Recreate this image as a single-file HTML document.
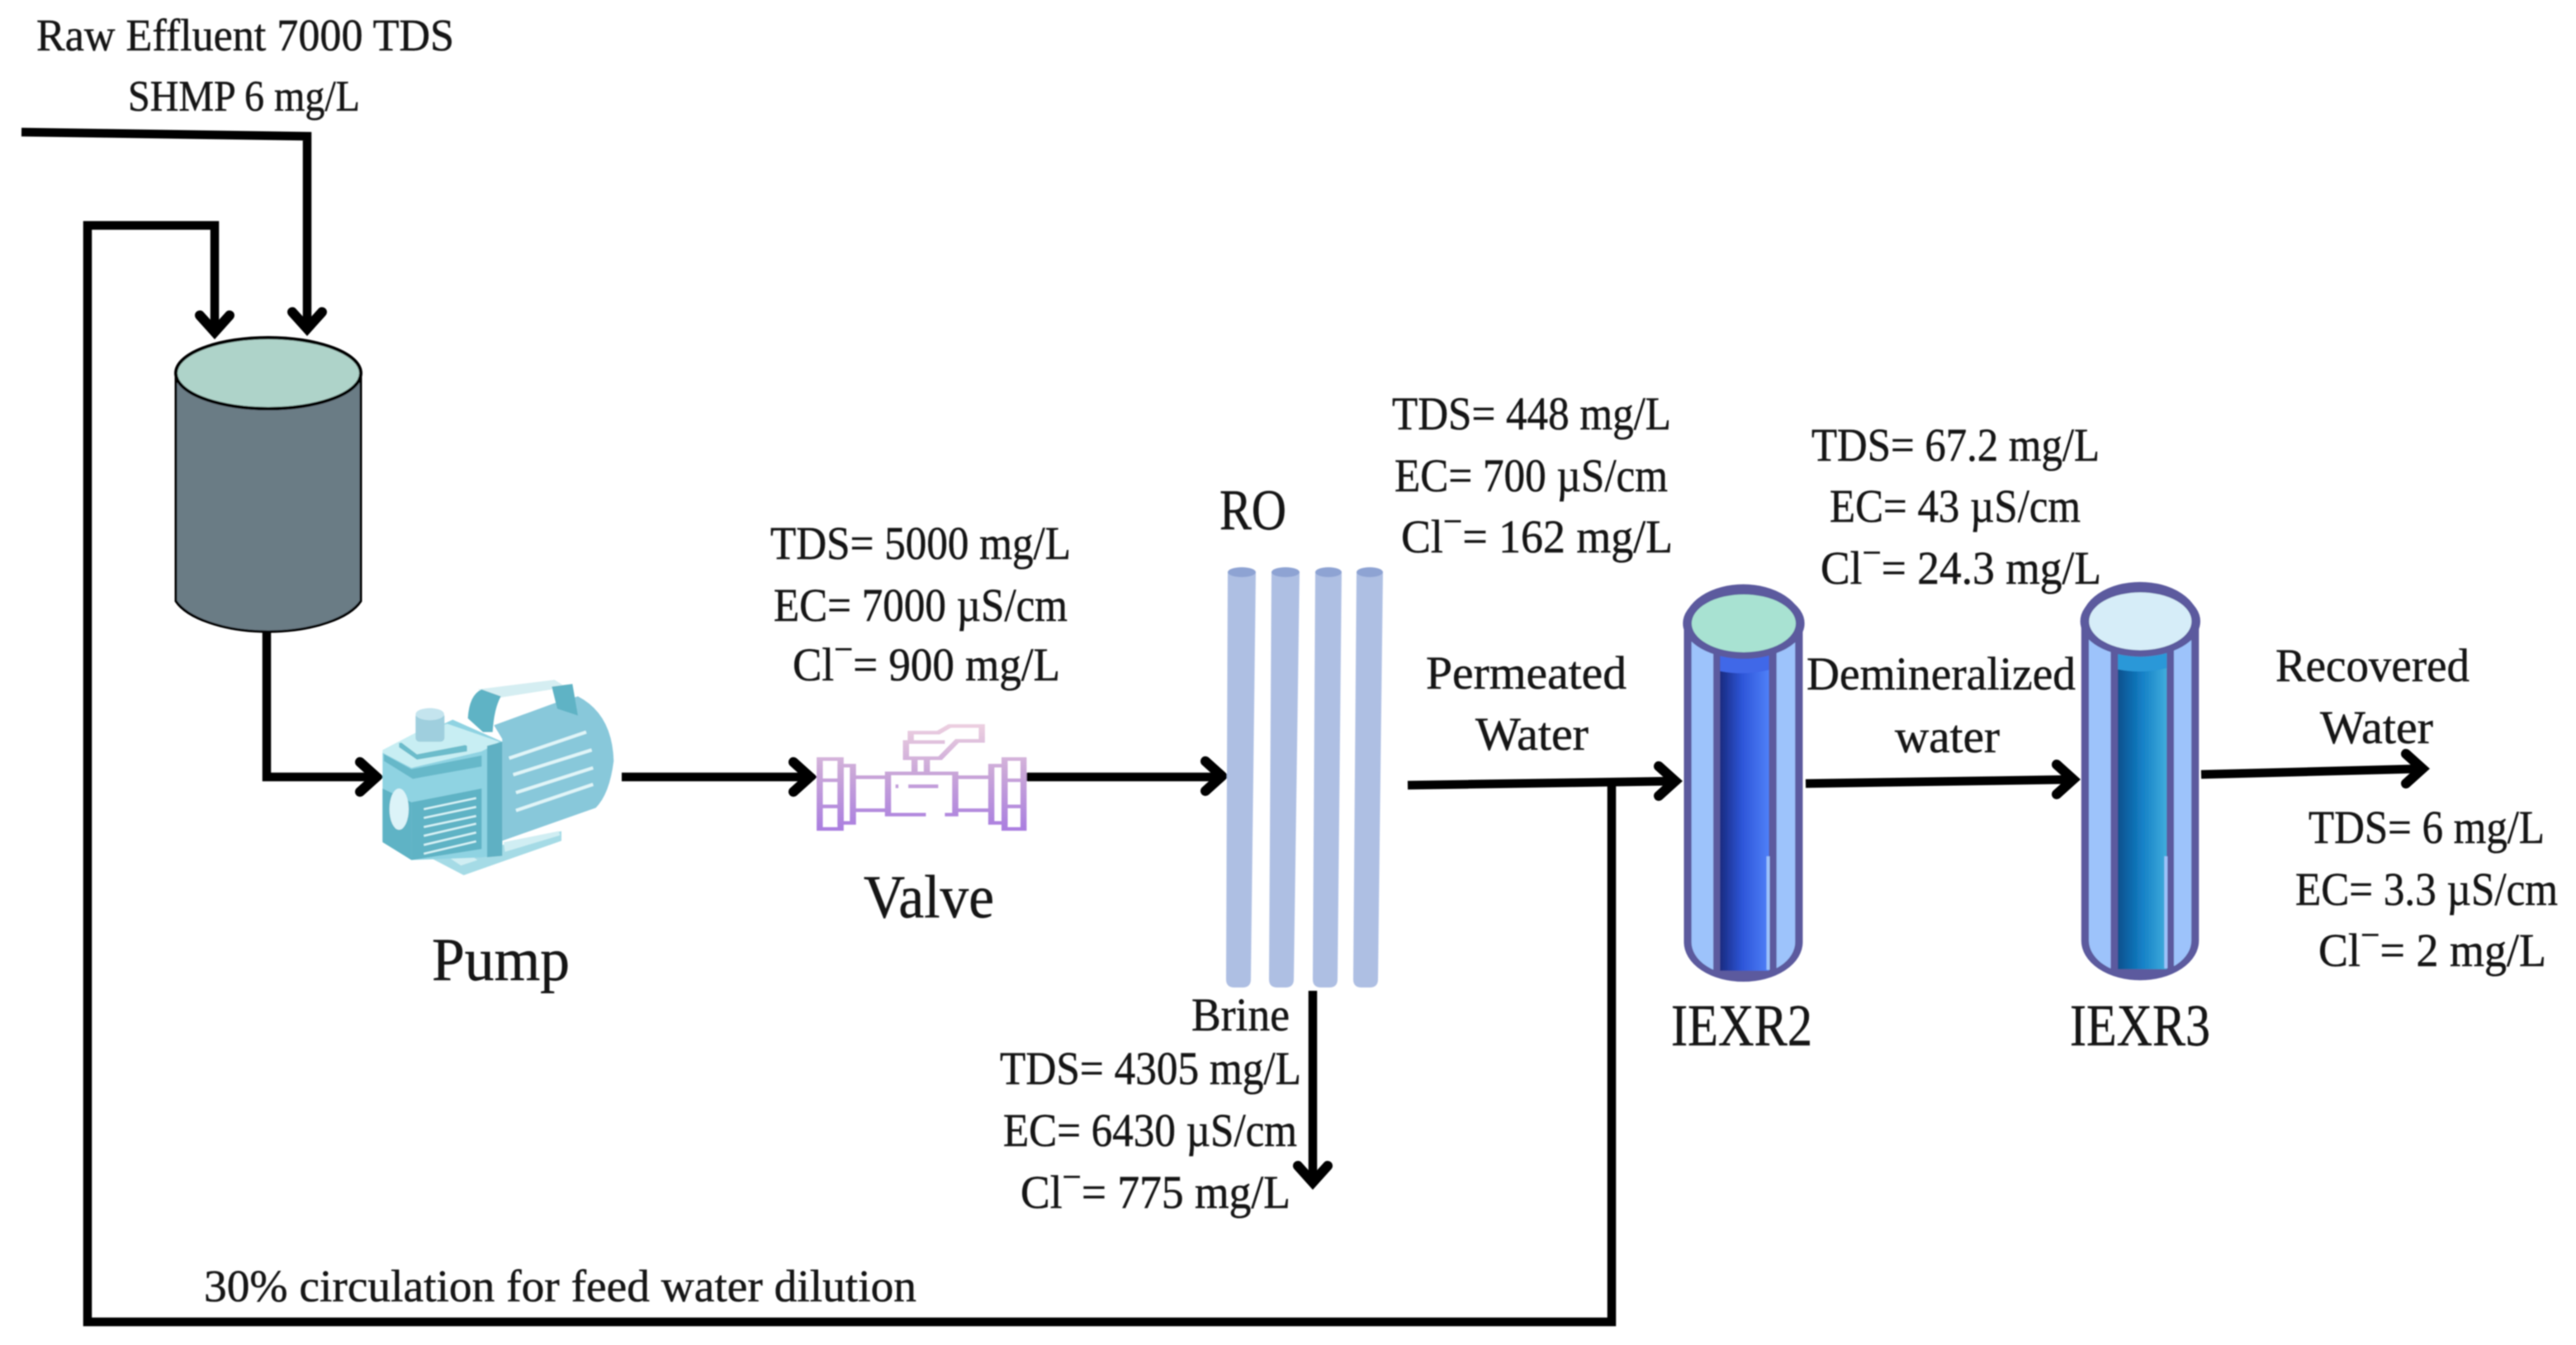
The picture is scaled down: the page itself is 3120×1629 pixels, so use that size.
<!DOCTYPE html>
<html><head><meta charset="utf-8"><title>Water treatment process diagram</title>
<style>html,body{margin:0;padding:0;background:#fff;width:3120px;height:1629px;overflow:hidden}svg{display:block}
text{font-family:"Liberation Serif",serif;fill:#151515;stroke:#151515;stroke-width:.5px}</style></head><body>
<svg width="3120" height="1629" viewBox="0 0 3120 1629" xmlns="http://www.w3.org/2000/svg">
<defs>
<filter id="soft" x="-2%" y="-2%" width="104%" height="104%"><feGaussianBlur stdDeviation="0.9"/></filter>
<linearGradient id="vg" gradientUnits="userSpaceOnUse" x1="0" y1="295" x2="0" y2="680"><stop offset="0" stop-color="#eccfe0"/><stop offset=".45" stop-color="#c9a6d8"/><stop offset="1" stop-color="#a97de0"/></linearGradient>
<linearGradient id="r2" x1="0" x2="1" y1="0" y2="0"><stop offset="0" stop-color="#192a80"/><stop offset=".45" stop-color="#2d55d8"/><stop offset="1" stop-color="#4f80f8"/></linearGradient>
<linearGradient id="r3" x1="0" x2="1" y1="0" y2="0"><stop offset="0" stop-color="#07508e"/><stop offset=".5" stop-color="#1480c6"/><stop offset="1" stop-color="#40acdc"/></linearGradient>
<clipPath id="c2"><rect x="91" y="87" width="278" height="1329" rx="139" ry="125"/></clipPath>
<clipPath id="c3"><rect x="1084" y="79" width="275" height="1332" rx="137" ry="125"/></clipPath>
</defs>
<g filter="url(#soft)">
<!-- connectors -->
<g fill="none" stroke="#000" stroke-width="10.5" stroke-linejoin="miter">
<path d="M26 160 L372 165 V398"/>
<path d="M260 402 V273 H106 V1601 H1952 V951"/>
<path d="M323 766 V941 H458" />
<path d="M753 941 H982"/>
<path d="M1242 941 H1482"/>
<path d="M1705 951 L2030 946"/>
<path d="M2187 949 L2512 944"/>
<path d="M2666 938 L2935 931"/>
<path d="M1590 1200 V1432"/>
</g>
<g fill="none" stroke="#000" stroke-width="12" stroke-linecap="round" stroke-linejoin="miter">
<path d="M436 923 L456 941 L436 959"/>
<path d="M961 923 L981 941 L961 959"/>
<path d="M1460 922 L1480 940 L1460 958"/>
<path d="M2009 928 L2029 946 L2009 964"/>
<path d="M2491 926 L2511 944 L2491 962"/>
<path d="M2914 913 L2934 931 L2914 949"/>
<path d="M242 382 L260 402 L278 382"/>
<path d="M354 378 L372 398 L390 378"/>
<path d="M1572 1412 L1590 1432 L1608 1412"/>
</g>
<!-- tank -->
<path d="M213 452 V728 C226 748 270 765 325 765 C380 765 424 748 437 728 V452 Z" fill="#6b7b85" stroke="#000" stroke-width="3"/>
<ellipse cx="325" cy="452" rx="112" ry="43" fill="#aed3c9" stroke="#000" stroke-width="4"/>
<!-- pump -->
<g transform="translate(455 815) scale(.3333)">
<path d="M430 190 L650 110 L735 85 Q860 150 865 320 Q850 440 800 490 L460 610 V240 Z" fill="#88c8da"/>
<path d="M370 60 L650 25 L690 50 L640 60 L450 90Z" fill="#d5eef2"/>
<path d="M335 165 Q340 80 385 60 L455 85 Q430 130 425 215 L390 215 Z" fill="#5fb3c5"/>
<path d="M640 50 L715 40 L735 155 L660 130 Z" fill="#5fb3c5"/>
<g stroke="#e0f5f8" stroke-width="12" fill="none"><path d="M485 310 L765 215M500 370 L785 280M510 435 L790 345M510 500 L790 405"/></g>
<path d="M205 675 L320 735 L675 610 V575 L460 625 V665 L405 670Z" fill="#a5dbe6"/>
<path d="M250 660 L310 640 L370 680 L310 700Z" fill="#d0eef3"/>
<path d="M465 615 L665 575 L670 590 L470 650Z" fill="#d0eef3"/>
<path d="M25 290 L280 170 L460 250 V665 L405 670 L130 680 L25 610 Z" fill="#8fd3e2"/>
<path d="M25 280 L150 215 L260 185 L450 250 L385 285 L130 345 L25 290 Z" fill="#c8eef3"/>
<path d="M85 255 L240 225 L332 265 V285 L150 315 L85 270Z" fill="#6cbccb"/>
<path d="M92 252 L240 222 L325 262 L150 296Z" fill="#c8eef3"/>
<path d="M30 295 L130 350 L385 300 V340 L135 385 L30 320 Z" fill="#66b8c9"/>
<path d="M130 470 L385 420 V640 L130 680Z" fill="#5fb3c5"/>
<path d="M25 420 L130 470 V680 L25 615Z" fill="#5fb3c5"/>
<ellipse cx="85" cy="495" rx="35" ry="75" fill="#dcf3f8"/>
<g stroke="#d8f4f8" stroke-width="7" fill="none"><path d="M175 495 L365 455M175 527 L365 487M175 560 L365 520M175 592 L365 548M175 625 L365 580M175 657 L365 612"/></g>
<path d="M405 265 L460 250 V665 L405 670Z" fill="#5fb0c3"/>
<rect x="145" y="145" width="105" height="105" rx="14" fill="#9fcfde"/>
<ellipse cx="197" cy="150" rx="52" ry="22" fill="#c4e4ee"/>
</g>
<!-- valve -->
<g transform="translate(420 780) scale(.574 .3333)" fill="none" stroke="url(#vg)" stroke-width="13">
<rect x="998" y="418" width="44" height="254"/><path d="M998 495 H1042 M998 590 H1042"/>
<rect x="1042" y="442" width="26" height="208"/>
<path d="M1068 484 H1140 M1068 604 H1140"/>
<path d="M1222 620 H1142 V470 H1284 V620 H1262"/>
<path d="M1158 517 h6 M1185 517 H1248"/>
<path d="M1284 484 H1360 M1284 604 H1360"/>
<rect x="1360" y="442" width="28" height="208"/>
<rect x="1388" y="418" width="40" height="254"/><path d="M1388 495 H1428 M1388 590 H1428"/>
<path d="M1198 470 V420 M1224 470 V420"/>
<path d="M1190 356 V322 H1248 L1272 298 H1340 V352 H1288 L1252 415 H1180 V356 H1262"/>
</g>
<!-- RO -->
<g fill="#aebfe3">
<path d="M1487 693 H1521 L1515 1186 Q1515 1196 1505 1196 H1495 Q1485 1196 1485 1186Z"/>
<path d="M1540 693 H1574 L1567 1186 Q1567 1196 1557 1196 H1547 Q1537 1196 1537 1186Z"/>
<path d="M1593 693 H1625 L1620 1186 Q1620 1196 1610 1196 H1600 Q1590 1196 1590 1186Z"/>
<path d="M1643 693 H1675 L1669 1186 Q1669 1196 1659 1196 H1649 Q1639 1196 1639 1186Z"/>
</g>
<g fill="#8ea3d3"><ellipse cx="1504" cy="693" rx="17" ry="6"/><ellipse cx="1557" cy="693" rx="17" ry="6"/><ellipse cx="1609" cy="693" rx="16" ry="6"/><ellipse cx="1659" cy="693" rx="16" ry="6"/></g>
<!-- IEXR2 -->
<g transform="translate(2000 680) scale(.4847 .3571)">
<rect x="91" y="87" width="278" height="1329" rx="139" ry="125" fill="#9dc3fb"/>
<g clip-path="url(#c2)">
<rect x="155" y="300" width="158" height="1130" fill="#5c5a9e"/>
<rect x="172" y="310" width="122" height="1100" fill="url(#r2)"/>
<path d="M172 310 H294 V368 Q233 388 172 372Z" fill="#3f68e8"/>
<rect x="288" y="1000" width="8" height="385" fill="#9dc3fb"/>
<path d="M91 1340 Q230 1400 369 1340 V1420 H91Z" fill="#5c5a9e" opacity="0"/>
<rect x="91" y="1388" width="278" height="36" fill="#5c5a9e"/>
</g>
<rect x="91" y="87" width="278" height="1329" rx="139" ry="125" fill="none" stroke="#5c5a9e" stroke-width="19"/>
<ellipse cx="231" cy="210" rx="141" ry="109" fill="#a8e2d2" stroke="#5c5a9e" stroke-width="22"/>
</g>
<!-- IEXR3 -->
<g transform="translate(2000 680) scale(.4847 .3571)">
<rect x="1084" y="79" width="275" height="1332" rx="137" ry="125" fill="#9dc3fb"/>
<g clip-path="url(#c3)">
<rect x="1148" y="295" width="158" height="1130" fill="#5c5a9e"/>
<rect x="1166" y="305" width="122" height="1100" fill="url(#r3)"/>
<path d="M1166 305 H1288 V362 Q1227 382 1166 366Z" fill="#2a98d8"/>
<rect x="1282" y="1000" width="8" height="380" fill="#9dc3fb"/>
<rect x="1084" y="1383" width="275" height="36" fill="#5c5a9e"/>
</g>
<rect x="1084" y="79" width="275" height="1332" rx="137" ry="125" fill="none" stroke="#5c5a9e" stroke-width="19"/>
<ellipse cx="1222" cy="203" rx="139" ry="109" fill="#d6edf8" stroke="#5c5a9e" stroke-width="22"/>
</g>
<!-- labels -->
<g text-rendering="geometricPrecision" font-size="57">
<text x="44" y="61" font-size="55" textLength="506" lengthAdjust="spacingAndGlyphs">Raw Effluent 7000 TDS</text>
<text x="155" y="134" font-size="53" textLength="281" lengthAdjust="spacingAndGlyphs">SHMP 6 mg/L</text>

<text x="933" y="677" textLength="364" lengthAdjust="spacingAndGlyphs">TDS= 5000 mg/L</text>
<text x="937" y="752" textLength="356" lengthAdjust="spacingAndGlyphs">EC= 7000 µS/cm</text>
<text x="960" y="824" textLength="324" lengthAdjust="spacingAndGlyphs">Cl<tspan dy="-23" font-size="44">−</tspan><tspan dy="23">= 900 mg/L</tspan></text>

<text x="1477" y="641" font-size="70" textLength="81" lengthAdjust="spacingAndGlyphs">RO</text>
<text x="523" y="1187" font-size="74" textLength="167" lengthAdjust="spacingAndGlyphs">Pump</text>
<text x="1046" y="1111" font-size="74" textLength="158" lengthAdjust="spacingAndGlyphs">Valve</text>

<text x="1686" y="520" textLength="338" lengthAdjust="spacingAndGlyphs">TDS= 448 mg/L</text>
<text x="1689" y="595" textLength="331" lengthAdjust="spacingAndGlyphs">EC= 700 µS/cm</text>
<text x="1697" y="669" textLength="329" lengthAdjust="spacingAndGlyphs">Cl<tspan dy="-23" font-size="44">−</tspan><tspan dy="23">= 162 mg/L</tspan></text>

<text x="2194" y="558" textLength="349" lengthAdjust="spacingAndGlyphs">TDS= 67.2 mg/L</text>
<text x="2216" y="632" textLength="304" lengthAdjust="spacingAndGlyphs">EC= 43 µS/cm</text>
<text x="2205" y="707" textLength="340" lengthAdjust="spacingAndGlyphs">Cl<tspan dy="-23" font-size="44">−</tspan><tspan dy="23">= 24.3 mg/L</tspan></text>

<text x="1727" y="834" textLength="243" lengthAdjust="spacingAndGlyphs">Permeated</text>
<text x="1787" y="908" textLength="137" lengthAdjust="spacingAndGlyphs">Water</text>
<text x="2188" y="835" textLength="326" lengthAdjust="spacingAndGlyphs">Demineralized</text>
<text x="2295" y="911" textLength="127" lengthAdjust="spacingAndGlyphs">water</text>
<text x="2756" y="825" textLength="235" lengthAdjust="spacingAndGlyphs">Recovered</text>
<text x="2810" y="900" textLength="137" lengthAdjust="spacingAndGlyphs">Water</text>

<text x="2796" y="1021" textLength="286" lengthAdjust="spacingAndGlyphs">TDS= 6 mg/L</text>
<text x="2780" y="1096" textLength="318" lengthAdjust="spacingAndGlyphs">EC= 3.3 µS/cm</text>
<text x="2808" y="1170" textLength="276" lengthAdjust="spacingAndGlyphs">Cl<tspan dy="-23" font-size="44">−</tspan><tspan dy="23">= 2 mg/L</tspan></text>

<text x="1443" y="1248" textLength="119" lengthAdjust="spacingAndGlyphs">Brine</text>
<text x="1211" y="1313" textLength="365" lengthAdjust="spacingAndGlyphs">TDS= 4305 mg/L</text>
<text x="1215" y="1388" textLength="356" lengthAdjust="spacingAndGlyphs">EC= 6430 µS/cm</text>
<text x="1236" y="1463" textLength="327" lengthAdjust="spacingAndGlyphs">Cl<tspan dy="-23" font-size="44">−</tspan><tspan dy="23">= 775 mg/L</tspan></text>

<text x="2024" y="1266" font-size="72" textLength="171" lengthAdjust="spacingAndGlyphs">IEXR2</text>
<text x="2507" y="1266" font-size="72" textLength="170" lengthAdjust="spacingAndGlyphs">IEXR3</text>
<text x="247" y="1576" font-size="55" textLength="863" lengthAdjust="spacingAndGlyphs">30% circulation for feed water dilution</text>
</g>
</g>
</svg>
</body></html>
